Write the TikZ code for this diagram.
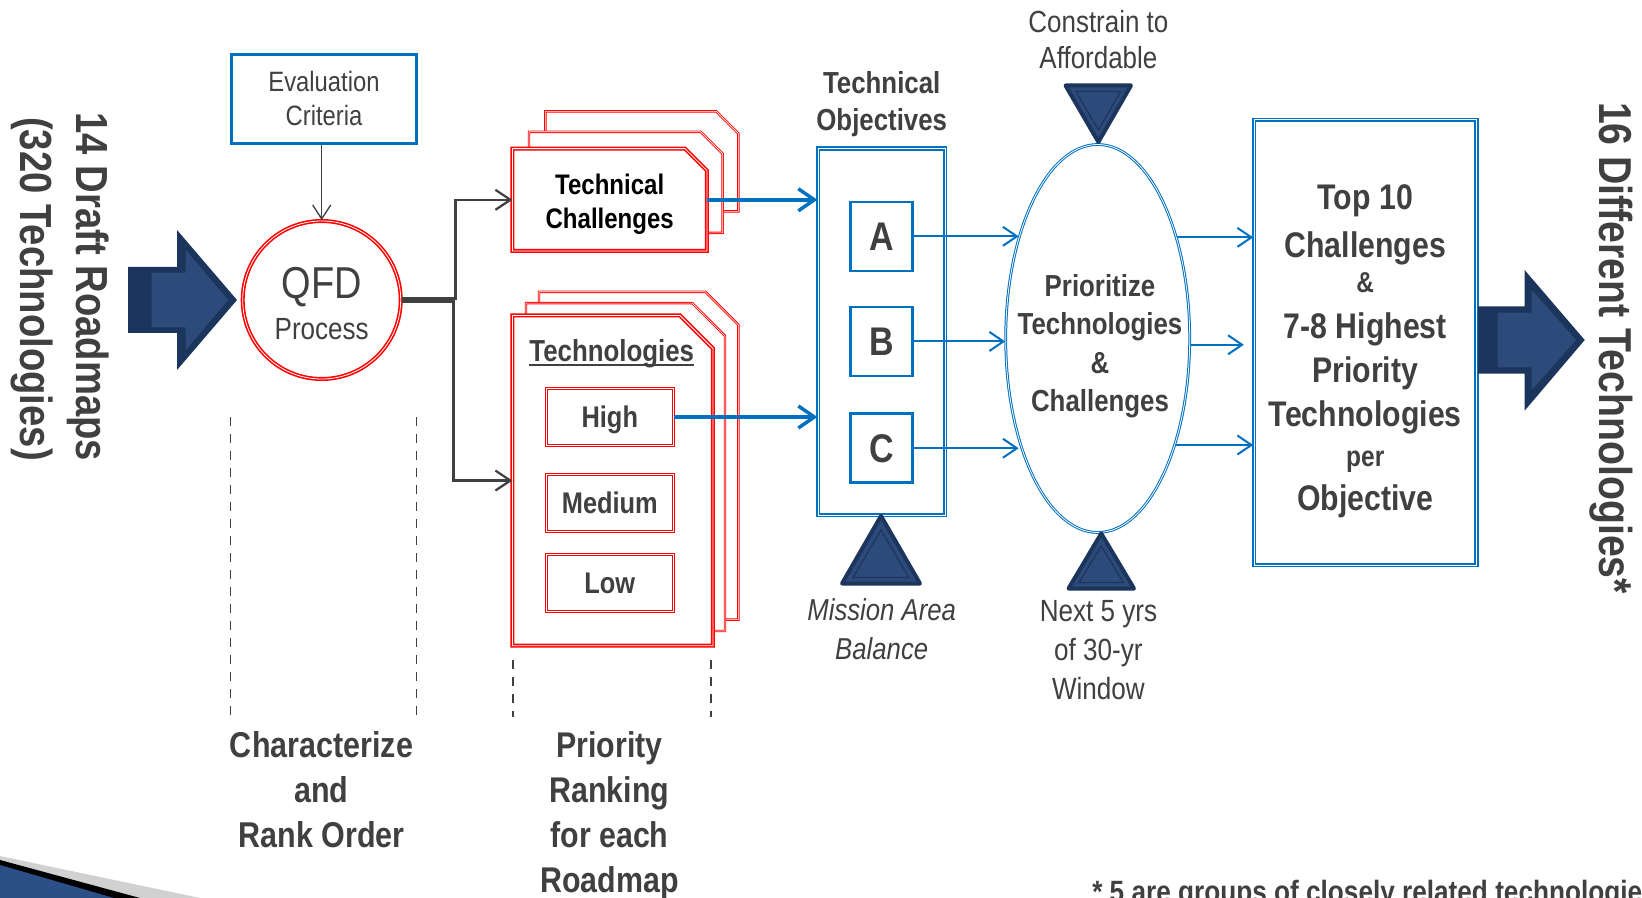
\documentclass[tikz,border=0pt]{standalone}
\usepackage{fontspec}
\setmainfont{Liberation Sans}[FakeStretch=0.85]
\usetikzlibrary{arrows.meta,shapes.geometric}
\definecolor{textgray}{HTML}{404040}
\definecolor{qblue}{HTML}{0070C0}
\definecolor{qred}{HTML}{FF0000}
\definecolor{navyedge}{HTML}{1C355C}
\definecolor{navyfill}{HTML}{2C4B7B}
\definecolor{slideblue}{HTML}{2B4F86}
\newcommand\myfs[2]{\fontsize{#1}{#2}\selectfont}
\begin{document}
\begin{tikzpicture}[x=0.75pt,y=-0.75pt,
  txt/.style={text=textgray, inner sep=0pt, align=center, text depth=0pt},
  side/.style={text=textgray, inner sep=0pt, font=\bfseries\myfs{33.75}{40}},
  redcard/.style={draw=qred, double=white, line width=1.2pt, double distance=0.6pt, fill=white},
  redback/.style={draw=qred, double=white, line width=0.7pt, double distance=0.45pt, fill=white},
  redbox/.style={draw=qred, double=white, line width=0.75pt, double distance=0.5pt, fill=white,
    minimum width=95.25pt, minimum height=42.75pt, inner sep=0pt, text=textgray,
    font=\bfseries\myfs{22.4}{27}, text depth=0pt},
  bluedbl/.style={draw=qblue, double=white, line width=1.2pt, double distance=0.7pt, fill=white, inner sep=0pt},
  letterbox/.style={draw=qblue, line width=1.9pt, fill=white, inner sep=0pt,
    minimum width=46.5pt, minimum height=51.75pt, text=textgray,
    font=\bfseries\myfs{30}{36}, text depth=0pt},
  conngray/.style={draw=textgray, line width=1.7pt, -{Straight Barb[length=11.25pt,width=15pt]}},
  evarrow/.style={draw=textgray, line width=1pt, -{Straight Barb[length=10.5pt,width=13.5pt]}},
  bluethick/.style={draw=qblue, line width=2.6pt, -{Straight Barb[length=12pt,width=16.5pt]}},
  bluethin/.style={draw=qblue, line width=1.5pt, -{Straight Barb[length=10.5pt,width=14.25pt]}},
  guide/.style={draw=textgray, line width=0.9pt, dash pattern=on 6.75pt off 6pt},
  navy/.style={fill=navyfill, draw=navyedge, line width=3pt, line join=round},
  navyin/.style={draw=navyedge, line width=0.9pt, line join=miter},
  topbig/.style={text=textgray, inner sep=0pt, font=\bfseries\myfs{26.7}{32}},
  topsmall/.style={text=textgray, inner sep=0pt, font=\bfseries\myfs{21.6}{26}}
]
\fill[white] (0,0) rectangle (1642,898);
\useasboundingbox (0,0) rectangle (1642,898);

% slide corner decoration
\fill[black!18] (0,856) -- (200,898) -- (0,898) -- cycle;
\fill[black] (0,860) -- (140,898) -- (0,898) -- cycle;
\fill[slideblue] (0,865) -- (114,898) -- (0,898) -- cycle;

% side texts
\node[side, anchor=base, rotate=-90] (s1) at (76,286.7) {14 Draft Roadmaps};
\node[side, anchor=base, rotate=-90] (s2) at (20,289) {(320 Technologies)};
\node[side, anchor=base, rotate=-90, font=\bfseries\myfs{34.6}{40}] (s3) at (1599.3,348) {16 Different Technologies*};

% left big arrow
\fill[navyedge] (128,267) -- (177,267) -- (177,230) -- (237,300) -- (177,370) -- (177,333) -- (128,333) -- cycle;
\draw[navyin, fill=navyfill] (151,272) -- (185,272) -- (185,248) -- (229,300) -- (185,352) -- (185,328) -- (151,328) -- cycle;

% evaluation criteria and QFD
\node[draw=qblue, line width=2.25pt, minimum width=138.75pt, minimum height=67pt, inner sep=0pt,
  text=textgray, align=center, text depth=0pt, font=\myfs{21}{25.5}] (ev) at (324,98.85) {Evaluation\\Criteria};
\node[circle, draw=qred, double=white, line width=1.2pt, double distance=0.6pt, fill=white,
  minimum size=118.5pt, inner sep=0pt] (qfd) at (321.7,300) {};
\node[txt, font=\myfs{33.5}{40}] (qfdA) at (321.7,282.7) {QFD};
\node[txt, font=\myfs{23}{28}] (qfdB) at (321.7,329) {Process};
\draw[evarrow] (qfd.north |- ev.south) -- (qfd.north);

% guide lines
\coordinate (g1a) at (230.4,416.8); \coordinate (g1b) at (230.4,717.3);
\coordinate (g2a) at (416.8,416.8); \coordinate (g2b) at (416.8,717.3);
\coordinate (g3a) at (513,659.7); \coordinate (g3b) at (513,717.3);
\coordinate (g4a) at (711,659.7); \coordinate (g4b) at (711,717.3);
\draw[guide] (g1a) -- (g1b);
\draw[guide] (g2a) -- (g2b);
\draw[guide] (g3a) -- (g3b);
\draw[guide] (g4a) -- (g4b);

% technical challenges cards
\draw[redback] (545.3,211.4) -- (545.3,111.4) -- (716.3,111.4) -- (738.3,133.4) -- (738.3,211.4) -- cycle;
\draw[redback] (529,232.9) -- (529,131.8) -- (700.7,131.8) -- (722.7,153.8) -- (722.7,232.9) -- cycle;
\node[minimum width=145.5pt, minimum height=76.35pt, inner sep=0pt] (tc) at (609.7,199.8) {};
\draw[redcard] (tc.south west) -- (tc.north west) -- ([xshift=-16.5pt]tc.north east) -- ([yshift=-16.5pt]tc.north east) -- (tc.south east) -- cycle;
\node[txt, text=black, font=\bfseries\myfs{21.2}{25.5}] (tct) at (609.7,201) {Technical\\Challenges};

% technologies cards
\draw[redback] (539,619.6) -- (539,291.8) -- (705.3,291.8) -- (738.3,324.8) -- (738.3,619.6) -- cycle;
\draw[redback] (526,631) -- (526,303.2) -- (692.3,303.2) -- (725,336) -- (725,631) -- cycle;
\node[minimum width=150pt, minimum height=247.3pt, inner sep=0pt] (techc) at (612.7,480.55) {};
\draw[redcard] (techc.south west) -- (techc.north west) -- ([xshift=-24.75pt]techc.north east) -- ([yshift=-24.75pt]techc.north east) -- (techc.south east) -- cycle;
\node[txt, font=\bfseries\myfs{22.8}{27}] (ttl) at (611.7,350.7) {Technologies};
\draw[textgray, line width=1.65pt] ([yshift=-2.6pt]ttl.base west) -- ([yshift=-2.6pt]ttl.base east);
\node[redbox] (high) at (609.8,417) {High};
\node[redbox] (med) at (609.8,503.05) {Medium};
\node[redbox] (low) at (609.8,582.85) {Low};

% QFD connectors
\draw[conngray] ([yshift=1.2pt]qfd.east) -- ++(54,0) |- (tc.west);
\draw[conngray] ([yshift=-1.2pt]qfd.east) -- ++(52,0) |- (techc.west);

% technical objectives
\node[txt, font=\bfseries\myfs{22.8}{27.5}] (toh) at (881.7,100.8) {Technical\\Objectives};
\node[bluedbl, minimum width=95.25pt, minimum height=275.1pt] (to) at (881.7,331.9) {};
\node[letterbox] (a) at (881.7,236.35) {A};
\node[letterbox] (b) at (881.7,341.45) {B};
\node[letterbox] (c) at (881.7,448.25) {C};
\draw[bluethick] (tc.east) -- (tc.east -| to.west);
\draw[bluethick] (high.east) -- (high.east -| to.west);

% ellipse
\node[ellipse, draw=qblue, double=white, line width=0.75pt, double distance=0.6pt, fill=white,
  minimum width=138pt, minimum height=291pt, inner sep=0pt] (ell) at (1097.7,338.5) {};
\node[txt, font=\bfseries\myfs{22.8}{28.7}] (ellt) at (1100,342.9) {Prioritize\\Technologies\\\&\\Challenges};
\draw[bluethin] (a.east) -- (a.east -| ell.128);
\draw[bluethin] (b.east) -- (b.east -| ell.west);
\draw[bluethin] (c.east) -- (c.east -| ell.232);

% top 10 box
\node[bluedbl, minimum width=166.9pt, minimum height=333.9pt] (top) at (1365.25,342.4) {};
\node[topbig, anchor=base] (t1) at (1365.25,209.8) {Top 10};
\node[topbig, anchor=base] (t2) at (1365.25,257.8) {Challenges};
\node[topsmall, anchor=base] (t3) at (1365.25,292.4) {\&};
\node[topbig, anchor=base] (t4) at (1365.25,338.5) {7-8 Highest};
\node[topbig, anchor=base] (t5) at (1365.25,382.5) {Priority};
\node[topbig, anchor=base] (t6) at (1365.25,426.6) {Technologies};
\node[topsmall, anchor=base] (t7) at (1365.25,466) {per};
\node[topbig, anchor=base] (t8) at (1365.25,510.8) {Objective};
\draw[bluethin] (ell.52) -- (ell.52 -| top.west);
\draw[bluethin, shorten >=7pt] ([yshift=-4.7pt]ell.east) -- ([yshift=-4.7pt]ell.east -| top.west);
\draw[bluethin] (ell.-54) -- (ell.-54 -| top.west);

% right big arrow
\fill[navyedge] (1478,306.5) -- (1524.6,306.5) -- (1524.6,270) -- (1584.7,340) -- (1524.6,410.7) -- (1524.6,373.6) -- (1478,373.6) -- cycle;
\draw[navyin, fill=navyfill] (1497,312) -- (1531,312) -- (1531,288) -- (1577,340) -- (1531,392) -- (1531,368) -- (1497,368) -- cycle;

% triangles
\draw[navy] (881,516) -- (920,583.5) -- (842,583.5) -- cycle;
\draw[navyin] (881,530) -- (909,577.5) -- (853,577.5) -- cycle;
\draw[navy] (1065.5,85.5) -- (1131,85.5) -- (1098.4,142) -- cycle;
\draw[navyin] (1076,91.5) -- (1120.5,91.5) -- (1098.4,130) -- cycle;
\draw[navy] (1101.2,533.5) -- (1134,588.5) -- (1068.5,588.5) -- cycle;
\draw[navyin] (1101.2,546) -- (1123.5,582.5) -- (1079,582.5) -- cycle;

% labels
\node[txt, font=\myfs{22.9}{27.4}] (cons) at (1098.4,39.25) {Constrain to\\Affordable};
\node[txt, font=\itshape\myfs{22.7}{29.6}] (mis) at (881.7,629.25) {Mission Area\\Balance};
\node[txt, font=\myfs{23}{29.1}] (nxt) at (1098.4,649.7) {Next 5 yrs\\of 30-yr\\Window};
\node[txt, font=\bfseries\myfs{26.9}{33.75}] (char) at (321.5,789.6) {Characterize\\and\\Rank Order};
\node[txt, font=\bfseries\myfs{26.8}{33.75}] (prio) at (609.5,812.1) {Priority\\Ranking\\for each\\Roadmap};
\node[anchor=base west, text=textgray, inner sep=0pt, font=\bfseries\myfs{23.1}{28}] (foot) at (1092,902) {* 5 are groups of closely related technologies};
\end{tikzpicture}
\end{document}
